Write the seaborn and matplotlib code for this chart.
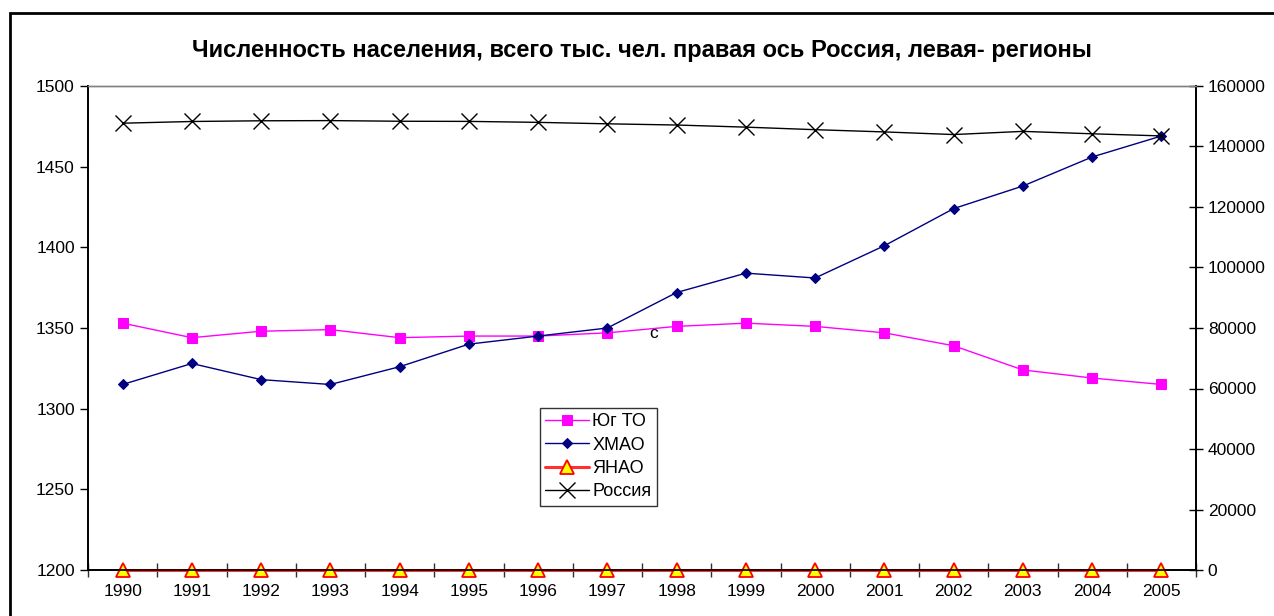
import matplotlib
matplotlib.use("Agg")
import matplotlib.pyplot as plt
from matplotlib.patches import Rectangle
from matplotlib.ticker import MultipleLocator
import seaborn as sns
import pandas as pd

years = list(range(1990, 2006))
yug_to = [1353, 1344, 1348, 1349, 1344, 1345, 1345, 1347, 1351, 1353, 1351, 1347, 1339, 1324, 1319, 1315]
hmao = [1315, 1328, 1318, 1315, 1326, 1340, 1345, 1350, 1372, 1384, 1381, 1401, 1424, 1438, 1456, 1469]
yanao = [1200] * 16
russia = [147700, 148270, 148500, 148560, 148350, 148300, 147980, 147500, 147100, 146400,
          145560, 144820, 143950, 145000, 144200, 143500]

title = "Численность населения, всего тыс. чел. правая ось Россия, левая- регионы"

sns.set_theme(style="white")
plt.rcParams["font.family"] = ["Liberation Sans", "DejaVu Sans"]
plt.rcParams["text.color"] = "black"

df = pd.DataFrame({"year": years, "Юг ТО": yug_to, "ХМАО": hmao, "ЯНАО": yanao, "Россия": russia})

fig = plt.figure(figsize=(12.74, 6.16), dpi=100)
ax = fig.add_axes([88 / 1274, 46 / 616, 1108 / 1274, 484 / 616])
ax2 = ax.twinx()

sns.lineplot(data=df, x="year", y="Юг ТО", ax=ax, color="#ff00ff", marker="s", markersize=6.5,
             markeredgecolor="#ff00ff", linewidth=1, label="Юг ТО", legend=False)
sns.lineplot(data=df, x="year", y="ХМАО", ax=ax, color="#000080", marker="D", markersize=5,
             markeredgecolor="#000080", linewidth=1, label="ХМАО", legend=False)
sns.lineplot(data=df, x="year", y="ЯНАО", ax=ax, color="#ff3030", marker="^", markersize=10,
             markerfacecolor="#ffff00", markeredgecolor="#ff0000", markeredgewidth=1.3,
             linewidth=2.2, label="ЯНАО", legend=False, clip_on=False, zorder=5)
sns.lineplot(data=df, x="year", y="Россия", ax=ax2, color="black", marker="x", markersize=11,
             markeredgecolor="black", markeredgewidth=1, linewidth=1, label="Россия", legend=False)

ax.set_xlim(1989.5, 2005.5)
ax.set_ylim(1200, 1500)
ax2.set_ylim(0, 160000)
ax.set_xticks(years)
ax.set_xticklabels([str(y) for y in years])
ax.xaxis.set_minor_locator(MultipleLocator(1, offset=0.5))
ax.yaxis.set_major_locator(MultipleLocator(50))
ax2.yaxis.set_major_locator(MultipleLocator(20000))
ax.set_xlabel("")
ax.set_ylabel("")
ax2.set_ylabel("")

ax.tick_params(axis="x", which="major", length=0, labelsize=12.5, pad=10, colors="black")
ax.tick_params(axis="x", which="minor", bottom=True, direction="inout", length=10, width=1, color="#303030")
ax.tick_params(axis="y", left=True, direction="out", length=6, width=1, labelsize=12.5, color="black", labelcolor="black")
ax2.tick_params(axis="y", right=True, direction="inout", length=10, width=1, labelsize=12.5, color="black", labelcolor="black")

for a in (ax, ax2):
    a.spines["top"].set_color("#808080")
    a.spines["top"].set_linewidth(1)
    a.spines["left"].set_color("black")
    a.spines["right"].set_color("black")
    a.spines["bottom"].set_color("black")
    a.grid(False)
    a.set_facecolor("none")

fig.text(642 / 1274, 1 - 50 / 616, title, ha="center", va="center", fontsize=17, fontweight="bold",
         color="black")
fig.text(654 / 1274, 1 - 333 / 616, "с", ha="center", va="center", fontsize=12.5, color="black")

fig.patches.append(Rectangle((10 / 1274, -0.1), 1.2, 1 - 13 / 616 + 0.1, transform=fig.transFigure,
                             fill=False, edgecolor="black", linewidth=2))

h1, l1 = ax.get_legend_handles_labels()
h2, l2 = ax2.get_legend_handles_labels()
leg = fig.legend(h1 + h2, l1 + l2, loc="upper left", bbox_to_anchor=(540 / 1274, 1 - 408 / 616),
                 frameon=True, fancybox=False, edgecolor="black", fontsize=13, handlelength=2.4,
                 borderpad=0.3, labelspacing=0.35, handletextpad=0.2, borderaxespad=0)
leg.get_frame().set_linewidth(1)
for t in leg.get_texts():
    t.set_color("black")

fig.savefig("out.png", dpi=100)
